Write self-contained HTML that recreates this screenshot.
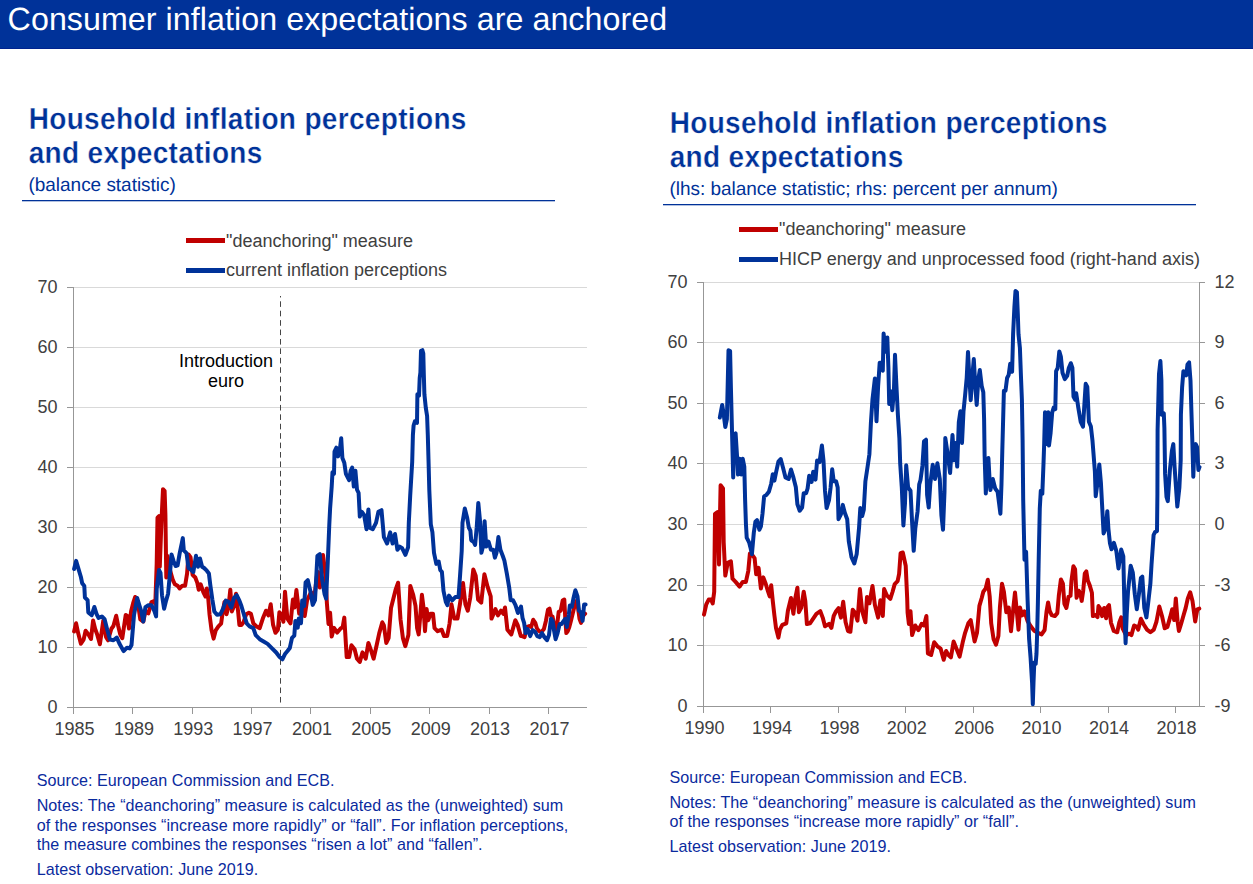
<!DOCTYPE html>
<html><head><meta charset="utf-8"><title>Consumer inflation expectations are anchored</title>
<style>
html,body{margin:0;padding:0;background:#fff;}
body{width:1253px;height:884px;overflow:hidden;}
svg{display:block;}
text{font-family:"Liberation Sans", Arial, sans-serif;}
</style></head><body>
<svg width="1253" height="884" viewBox="0 0 1253 884">
<rect x="0" y="0" width="1253" height="884" fill="#ffffff"/>
<rect x="0" y="0" width="1253" height="49" fill="#003299"/>
<rect x="0" y="48" width="1253" height="1" fill="#00238f"/>
<text x="7.6" y="30" font-size="32.2" text-rendering="geometricPrecision" fill="#ffffff" textLength="659.5" lengthAdjust="spacing">Consumer inflation expectations are anchored</text>

<text transform="translate(28.7,128.8) scale(1,1.085)" x="0" y="0" font-size="28" text-rendering="geometricPrecision" font-weight="bold" fill="#003299" stroke="#ffffff" stroke-width="0.3" letter-spacing="0.33">Household inflation perceptions</text>
<text transform="translate(28.7,162.9) scale(1,1.085)" x="0" y="0" font-size="28" text-rendering="geometricPrecision" font-weight="bold" fill="#003299" stroke="#ffffff" stroke-width="0.3" letter-spacing="0.33">and expectations</text>
<text x="28.5" y="191.0" font-size="19" text-rendering="geometricPrecision" fill="#003299" letter-spacing="-0.03">(balance statistic)</text>
<rect x="22" y="200" width="533" height="1.3" fill="#003299"/>
<text transform="translate(669.7,132.8) scale(1,1.085)" x="0" y="0" font-size="28" text-rendering="geometricPrecision" font-weight="bold" fill="#003299" stroke="#ffffff" stroke-width="0.3" letter-spacing="0.33">Household inflation perceptions</text>
<text transform="translate(669.7,166.9) scale(1,1.085)" x="0" y="0" font-size="28" text-rendering="geometricPrecision" font-weight="bold" fill="#003299" stroke="#ffffff" stroke-width="0.3" letter-spacing="0.33">and expectations</text>
<text x="669.5" y="195.0" font-size="19" text-rendering="geometricPrecision" fill="#003299" letter-spacing="-0.03">(lhs: balance statistic; rhs: percent per annum)</text>
<rect x="663" y="204" width="533" height="1.3" fill="#003299"/>
<line x1="74" y1="287.5" x2="587" y2="287.5" stroke="#d9d9d9" stroke-width="1"/>
<line x1="74" y1="347.5" x2="587" y2="347.5" stroke="#d9d9d9" stroke-width="1"/>
<line x1="74" y1="407.5" x2="587" y2="407.5" stroke="#d9d9d9" stroke-width="1"/>
<line x1="74" y1="467.5" x2="587" y2="467.5" stroke="#d9d9d9" stroke-width="1"/>
<line x1="74" y1="527.5" x2="587" y2="527.5" stroke="#d9d9d9" stroke-width="1"/>
<line x1="74" y1="587.5" x2="587" y2="587.5" stroke="#d9d9d9" stroke-width="1"/>
<line x1="74" y1="647.5" x2="587" y2="647.5" stroke="#d9d9d9" stroke-width="1"/>
<line x1="73.5" y1="287" x2="73.5" y2="714" stroke="#979797" stroke-width="1"/>
<line x1="67" y1="707.5" x2="587" y2="707.5" stroke="#979797" stroke-width="1"/>
<line x1="67" y1="287.5" x2="73" y2="287.5" stroke="#979797" stroke-width="1"/>
<line x1="67" y1="347.5" x2="73" y2="347.5" stroke="#979797" stroke-width="1"/>
<line x1="67" y1="407.5" x2="73" y2="407.5" stroke="#979797" stroke-width="1"/>
<line x1="67" y1="467.5" x2="73" y2="467.5" stroke="#979797" stroke-width="1"/>
<line x1="67" y1="527.5" x2="73" y2="527.5" stroke="#979797" stroke-width="1"/>
<line x1="67" y1="587.5" x2="73" y2="587.5" stroke="#979797" stroke-width="1"/>
<line x1="67" y1="647.5" x2="73" y2="647.5" stroke="#979797" stroke-width="1"/>
<text x="57.5" y="293.0" font-size="18" fill="#404040" text-anchor="end">70</text>
<text x="57.5" y="353.0" font-size="18" fill="#404040" text-anchor="end">60</text>
<text x="57.5" y="413.0" font-size="18" fill="#404040" text-anchor="end">50</text>
<text x="57.5" y="473.0" font-size="18" fill="#404040" text-anchor="end">40</text>
<text x="57.5" y="533.0" font-size="18" fill="#404040" text-anchor="end">30</text>
<text x="57.5" y="593.0" font-size="18" fill="#404040" text-anchor="end">20</text>
<text x="57.5" y="653.0" font-size="18" fill="#404040" text-anchor="end">10</text>
<text x="57.5" y="713.0" font-size="18" fill="#404040" text-anchor="end">0</text>
<line x1="73.5" y1="707" x2="73.5" y2="714" stroke="#979797" stroke-width="1"/>
<text x="74.5" y="735.0" font-size="18" fill="#404040" text-anchor="middle">1985</text>
<line x1="132.5" y1="707" x2="132.5" y2="714" stroke="#979797" stroke-width="1"/>
<text x="133.9" y="735.0" font-size="18" fill="#404040" text-anchor="middle">1989</text>
<line x1="192.5" y1="707" x2="192.5" y2="714" stroke="#979797" stroke-width="1"/>
<text x="193.2" y="735.0" font-size="18" fill="#404040" text-anchor="middle">1993</text>
<line x1="251.5" y1="707" x2="251.5" y2="714" stroke="#979797" stroke-width="1"/>
<text x="252.6" y="735.0" font-size="18" fill="#404040" text-anchor="middle">1997</text>
<line x1="310.5" y1="707" x2="310.5" y2="714" stroke="#979797" stroke-width="1"/>
<text x="311.9" y="735.0" font-size="18" fill="#404040" text-anchor="middle">2001</text>
<line x1="370.5" y1="707" x2="370.5" y2="714" stroke="#979797" stroke-width="1"/>
<text x="371.3" y="735.0" font-size="18" fill="#404040" text-anchor="middle">2005</text>
<line x1="429.5" y1="707" x2="429.5" y2="714" stroke="#979797" stroke-width="1"/>
<text x="430.7" y="735.0" font-size="18" fill="#404040" text-anchor="middle">2009</text>
<line x1="489.5" y1="707" x2="489.5" y2="714" stroke="#979797" stroke-width="1"/>
<text x="490.0" y="735.0" font-size="18" fill="#404040" text-anchor="middle">2013</text>
<line x1="548.5" y1="707" x2="548.5" y2="714" stroke="#979797" stroke-width="1"/>
<text x="549.4" y="735.0" font-size="18" fill="#404040" text-anchor="middle">2017</text>
<line x1="704" y1="282.5" x2="1200" y2="282.5" stroke="#d9d9d9" stroke-width="1"/>
<line x1="704" y1="342.5" x2="1200" y2="342.5" stroke="#d9d9d9" stroke-width="1"/>
<line x1="704" y1="403.5" x2="1200" y2="403.5" stroke="#d9d9d9" stroke-width="1"/>
<line x1="704" y1="463.5" x2="1200" y2="463.5" stroke="#d9d9d9" stroke-width="1"/>
<line x1="704" y1="524.5" x2="1200" y2="524.5" stroke="#d9d9d9" stroke-width="1"/>
<line x1="704" y1="585.5" x2="1200" y2="585.5" stroke="#d9d9d9" stroke-width="1"/>
<line x1="704" y1="645.5" x2="1200" y2="645.5" stroke="#d9d9d9" stroke-width="1"/>
<line x1="703.5" y1="282" x2="703.5" y2="713" stroke="#979797" stroke-width="1"/>
<line x1="697" y1="706.5" x2="1200" y2="706.5" stroke="#979797" stroke-width="1"/>
<line x1="697" y1="282.5" x2="703" y2="282.5" stroke="#979797" stroke-width="1"/>
<line x1="697" y1="342.5" x2="703" y2="342.5" stroke="#979797" stroke-width="1"/>
<line x1="697" y1="403.5" x2="703" y2="403.5" stroke="#979797" stroke-width="1"/>
<line x1="697" y1="463.5" x2="703" y2="463.5" stroke="#979797" stroke-width="1"/>
<line x1="697" y1="524.5" x2="703" y2="524.5" stroke="#979797" stroke-width="1"/>
<line x1="697" y1="585.5" x2="703" y2="585.5" stroke="#979797" stroke-width="1"/>
<line x1="697" y1="645.5" x2="703" y2="645.5" stroke="#979797" stroke-width="1"/>
<text x="687.5" y="288.0" font-size="18" fill="#404040" text-anchor="end">70</text>
<text x="687.5" y="348.0" font-size="18" fill="#404040" text-anchor="end">60</text>
<text x="687.5" y="409.0" font-size="18" fill="#404040" text-anchor="end">50</text>
<text x="687.5" y="469.0" font-size="18" fill="#404040" text-anchor="end">40</text>
<text x="687.5" y="530.0" font-size="18" fill="#404040" text-anchor="end">30</text>
<text x="687.5" y="591.0" font-size="18" fill="#404040" text-anchor="end">20</text>
<text x="687.5" y="651.0" font-size="18" fill="#404040" text-anchor="end">10</text>
<text x="687.5" y="712.0" font-size="18" fill="#404040" text-anchor="end">0</text>
<line x1="1199.5" y1="282" x2="1199.5" y2="707" stroke="#979797" stroke-width="1"/>
<line x1="1199" y1="282.5" x2="1205" y2="282.5" stroke="#979797" stroke-width="1"/>
<text x="1214.6" y="288.0" font-size="18" fill="#404040">12</text>
<line x1="1199" y1="342.5" x2="1205" y2="342.5" stroke="#979797" stroke-width="1"/>
<text x="1214.6" y="348.0" font-size="18" fill="#404040">9</text>
<line x1="1199" y1="403.5" x2="1205" y2="403.5" stroke="#979797" stroke-width="1"/>
<text x="1214.6" y="409.0" font-size="18" fill="#404040">6</text>
<line x1="1199" y1="463.5" x2="1205" y2="463.5" stroke="#979797" stroke-width="1"/>
<text x="1214.6" y="469.0" font-size="18" fill="#404040">3</text>
<line x1="1199" y1="524.5" x2="1205" y2="524.5" stroke="#979797" stroke-width="1"/>
<text x="1214.6" y="530.0" font-size="18" fill="#404040">0</text>
<line x1="1199" y1="585.5" x2="1205" y2="585.5" stroke="#979797" stroke-width="1"/>
<text x="1214.6" y="591.0" font-size="18" fill="#404040">-3</text>
<line x1="1199" y1="645.5" x2="1205" y2="645.5" stroke="#979797" stroke-width="1"/>
<text x="1214.6" y="651.0" font-size="18" fill="#404040">-6</text>
<line x1="1199" y1="706.5" x2="1205" y2="706.5" stroke="#979797" stroke-width="1"/>
<text x="1214.6" y="712.0" font-size="18" fill="#404040">-9</text>
<line x1="703.5" y1="706" x2="703.5" y2="713" stroke="#979797" stroke-width="1"/>
<text x="704.5" y="734.0" font-size="18" fill="#404040" text-anchor="middle">1990</text>
<line x1="770.5" y1="706" x2="770.5" y2="713" stroke="#979797" stroke-width="1"/>
<text x="771.9" y="734.0" font-size="18" fill="#404040" text-anchor="middle">1994</text>
<line x1="838.5" y1="706" x2="838.5" y2="713" stroke="#979797" stroke-width="1"/>
<text x="839.4" y="734.0" font-size="18" fill="#404040" text-anchor="middle">1998</text>
<line x1="905.5" y1="706" x2="905.5" y2="713" stroke="#979797" stroke-width="1"/>
<text x="906.8" y="734.0" font-size="18" fill="#404040" text-anchor="middle">2002</text>
<line x1="973.5" y1="706" x2="973.5" y2="713" stroke="#979797" stroke-width="1"/>
<text x="974.2" y="734.0" font-size="18" fill="#404040" text-anchor="middle">2006</text>
<line x1="1040.5" y1="706" x2="1040.5" y2="713" stroke="#979797" stroke-width="1"/>
<text x="1041.6" y="734.0" font-size="18" fill="#404040" text-anchor="middle">2010</text>
<line x1="1108.5" y1="706" x2="1108.5" y2="713" stroke="#979797" stroke-width="1"/>
<text x="1109.1" y="734.0" font-size="18" fill="#404040" text-anchor="middle">2014</text>
<line x1="1175.5" y1="706" x2="1175.5" y2="713" stroke="#979797" stroke-width="1"/>
<text x="1176.5" y="734.0" font-size="18" fill="#404040" text-anchor="middle">2018</text>
<line x1="280.5" y1="296" x2="280.5" y2="702.6" stroke="#454545" stroke-width="1" stroke-dasharray="5.6,3.82" stroke-dashoffset="4.12"/>
<text x="226" y="366.8" font-size="18" fill="#000" text-anchor="middle">Introduction</text>
<text x="226" y="387.1" font-size="18" fill="#000" text-anchor="middle">euro</text>
<polyline points="74.1,631.4 76.1,623.3 78.1,632.8 80.9,643.7 83.6,639.6 85.6,630.8 88.3,634.2 91.0,638.9 93.1,620.6 95.1,628.7 97.1,634.2 99.9,644.3 103.3,620.6 106.0,636.9 108.0,640.3 111.4,628.7 113.4,626.0 116.2,615.8 118.2,626.0 120.2,634.2 122.3,638.2 125.7,615.0 127.2,616.0 129.0,628.6 131.1,611.3 133.2,603.0 135.2,597.0 138.2,605.2 140.3,619.4 143.3,621.5 145.4,611.3 148.4,613.3 151.5,602.1 154.0,601.1 155.3,604.0 156.7,563.6 157.5,517.7 159.0,516.2 159.8,566.8 161.4,522.5 163.0,489.2 164.6,490.8 165.4,514.6 166.3,577.5 167.5,556.0 170.0,570.0 172.9,580.2 174.9,584.3 177.6,585.7 179.7,588.4 182.4,585.7 185.1,585.7 187.1,573.4 188.5,554.4 190.5,557.1 192.6,574.8 195.3,577.5 197.3,582.9 198.7,589.7 200.7,584.3 203.4,592.4 205.5,596.5 206.8,588.4 208.2,597.9 209.5,614.2 211.6,630.4 213.6,638.6 215.7,630.4 218.4,626.4 221.1,623.7 222.4,614.2 224.5,601.9 226.5,614.2 228.6,606.0 230.3,589.7 231.9,611.4 234.0,606.0 236.0,593.8 238.1,611.4 239.4,625.0 241.4,625.0 243.5,622.3 246.2,614.2 248.9,612.8 250.9,613.8 253.3,623.3 256.5,626.5 259.7,628.1 262.8,618.6 266.0,610.7 268.4,615.4 270.7,604.3 273.1,624.9 275.5,632.8 277.9,629.7 279.4,612.2 281.8,615.4 283.4,621.7 285.0,591.7 287.4,618.6 290.5,623.3 292.9,599.6 294.5,607.5 296.4,590.1 299.2,613.8 301.6,607.5 304.7,616.0 307.1,600.2 311.1,592.2 314.2,598.6 317.4,571.7 319.8,587.5 323.0,555.0 325.3,573.2 326.9,603.3 328.5,623.9 330.1,612.8 331.7,636.6 334.0,627.9 337.2,632.6 340.4,628.7 342.7,627.1 344.3,617.6 346.7,657.1 349.1,657.1 351.4,645.3 354.6,649.2 357.0,658.7 359.8,661.9 362.5,652.4 365.7,658.7 368.4,642.9 371.2,650.8 373.6,658.7 376.8,644.5 379.2,633.4 382.3,622.3 383.9,625.5 386.3,642.9 388.6,638.1 391.0,608.1 393.4,598.6 395.8,589.1 398.1,582.7 400.5,619.2 402.9,638.1 405.3,646.1 408.4,635.0 410.3,585.9 413.2,594.8 415.5,605.9 417.1,628.1 418.7,634.4 420.3,615.4 421.9,594.8 423.5,607.5 425.0,631.2 426.6,609.1 428.2,620.2 430.6,613.8 433.0,613.8 434.5,628.1 437.7,631.2 441.7,629.7 444.0,636.0 447.2,636.0 449.6,623.3 451.5,604.3 454.3,618.6 457.5,618.6 459.9,604.3 463.0,583.0 465.4,604.3 467.8,610.7 470.2,598.0 473.3,569.5 475.7,575.8 478.1,599.6 481.2,602.7 484.4,574.2 487.6,586.9 490.7,596.4 491.5,618.6 495.5,609.1 497.9,615.4 501.0,610.7 503.4,613.8 505.0,607.5 507.4,629.7 511.3,634.4 515.3,620.2 517.6,624.9 520.8,636.0 522.0,636.1 524.6,637.1 526.6,627.0 529.2,626.0 531.2,627.0 533.2,619.8 535.3,622.9 536.8,628.0 538.8,631.0 541.4,632.1 543.9,629.0 545.9,620.9 548.0,609.7 549.5,608.7 551.0,615.8 552.6,616.8 554.1,624.9 555.6,631.0 557.1,624.9 558.7,611.7 560.7,610.7 562.7,600.5 564.3,599.5 565.3,618.8 566.3,633.1 567.8,631.0 569.3,627.0 570.9,620.9 572.9,612.7 574.9,604.6 577.0,600.5 579.5,618.8 581.0,622.9 583.1,615.8 585.1,613.7" fill="none" stroke="#c00000" stroke-width="4" stroke-linejoin="round" stroke-linecap="round"/>
<polyline points="74.1,569.0 76.1,560.9 78.1,567.6 80.9,577.0 82.2,583.3 84.3,586.0 84.9,597.5 87.6,600.2 88.3,612.4 91.7,615.2 94.4,607.0 96.5,613.8 98.5,617.9 101.9,616.5 104.6,619.2 107.3,630.0 110.0,639.6 113.4,640.3 116.8,637.6 119.5,643.7 123.6,651.1 127.0,647.7 129.7,648.4 131.5,645.0 134.0,615.0 137.2,598.0 139.3,605.0 141.3,611.3 143.3,621.5 145.4,607.2 148.4,605.2 151.5,605.2 154.5,611.3 156.1,616.4 156.7,589.0 159.0,570.0 160.5,573.0 162.0,595.2 164.1,608.7 166.1,600.6 168.1,593.8 170.2,570.7 171.5,554.4 173.6,561.2 175.6,566.0 177.6,565.3 179.7,553.1 181.7,543.6 182.8,538.1 183.8,550.4 186.5,553.1 188.5,568.0 190.5,569.4 193.3,572.1 196.0,555.8 198.0,566.7 200.0,558.5 202.1,566.7 204.1,568.0 206.8,570.7 208.9,573.4 210.2,584.3 212.3,599.2 214.3,611.4 217.0,614.8 220.4,614.2 223.1,608.7 225.8,600.6 228.5,601.9 231.3,607.4 234.0,597.9 236.7,595.2 239.4,600.6 241.4,606.0 244.2,615.5 246.9,623.7 249.6,626.4 253.3,628.1 255.7,635.2 259.7,639.2 263.6,641.5 267.6,643.9 272.3,648.6 276.2,652.5 279.6,657.0 282.4,659.3 285.2,653.7 287.5,651.0 289.8,648.0 292.0,637.9 294.3,635.6 295.4,620.9 297.7,627.7 298.8,618.6 301.0,623.1 302.2,600.5 304.2,606.0 305.6,582.4 307.8,580.2 310.3,590.7 312.7,604.9 315.0,600.2 317.4,555.8 319.8,554.2 322.2,579.6 324.5,593.8 326.1,598.6 327.7,563.7 329.3,524.5 330.1,508.6 331.7,486.5 332.5,472.2 334.0,473.8 334.5,451.7 336.4,447.7 338.0,456.4 339.6,451.7 341.2,438.2 342.4,458.0 344.3,462.7 345.9,473.8 349.1,480.2 350.7,470.7 352.2,467.5 353.8,486.5 355.4,470.7 357.0,489.7 358.6,492.8 359.8,516.6 361.7,511.8 364.1,515.0 366.5,529.2 368.4,509.4 369.7,527.6 372.8,529.2 376.0,522.9 378.4,511.8 381.5,510.2 383.9,537.1 387.1,543.5 390.2,532.4 392.6,543.5 395.0,534.0 397.4,549.8 399.7,546.6 402.1,548.2 405.4,554.8 408.1,547.3 408.8,522.9 410.2,495.7 412.2,461.8 412.9,435.0 413.6,425.5 414.9,421.4 417.0,422.8 417.4,394.3 419.0,395.7 419.7,378.0 420.4,372.6 421.0,350.9 422.4,350.2 423.3,353.6 423.8,374.0 424.4,394.3 425.8,407.9 427.1,416.0 427.8,435.0 428.5,459.5 429.3,490.0 430.8,524.3 432.4,532.2 434.0,552.8 436.3,563.9 438.7,561.5 440.3,570.2 441.9,571.8 443.5,590.8 445.8,601.9 447.4,605.1 449.0,595.6 452.2,600.3 455.3,597.1 458.5,597.1 460.1,575.0 461.7,551.2 462.5,522.7 464.8,508.5 467.2,518.0 468.8,527.5 470.4,530.7 471.2,540.2 473.5,541.7 475.1,544.9 476.7,527.5 478.3,503.0 479.9,519.6 481.4,552.8 483.0,546.5 484.6,521.2 486.2,546.5 488.6,541.7 490.9,549.7 493.3,549.7 494.9,557.6 496.5,552.8 498.4,537.0 500.4,549.7 502.8,556.0 504.4,560.7 506.8,573.4 509.2,587.6 510.7,600.3 513.1,600.3 515.5,605.1 517.9,613.0 521.0,606.6 522.5,617.8 524.1,622.9 525.6,633.1 527.6,629.0 530.2,636.1 532.7,630.0 535.3,632.1 537.3,636.1 539.8,637.1 541.9,633.1 544.4,637.1 547.0,640.2 549.0,635.1 551.0,618.8 552.6,620.9 554.1,631.0 555.6,639.2 557.6,633.1 559.7,623.9 561.7,623.9 563.7,620.9 565.3,618.8 566.8,627.0 568.8,614.8 569.8,605.6 571.9,606.6 573.4,598.5 575.4,590.3 577.5,596.4 579.0,610.7 581.0,612.7 582.6,620.9 584.1,604.6 585.6,604.6" fill="none" stroke="#003299" stroke-width="4" stroke-linejoin="round" stroke-linecap="round"/>
<polyline points="704.0,614.6 706.3,604.3 708.7,599.6 711.1,599.6 712.7,603.5 714.2,591.7 715.0,513.8 717.4,512.2 719.0,564.5 720.6,485.3 723.0,488.5 723.7,542.3 725.3,575.6 727.7,562.9 730.9,561.3 732.5,578.7 735.6,581.9 739.6,586.6 742.7,581.9 745.9,581.9 748.3,570.8 749.9,553.4 752.2,555.0 754.6,558.1 756.2,574.2 758.6,567.9 760.9,588.5 763.3,577.4 765.7,583.7 768.1,591.7 769.7,596.4 771.2,585.3 772.8,601.2 774.4,615.4 776.0,628.1 778.4,637.6 779.9,629.7 782.3,624.9 786.3,623.3 787.9,610.7 791.0,598.0 793.4,613.8 795.0,599.6 797.4,587.7 798.9,612.2 801.3,607.5 803.7,591.7 805.3,601.2 806.9,624.1 810.0,623.3 813.2,618.6 816.4,613.8 820.3,611.2 822.7,617.6 825.0,626.3 829.0,623.9 831.4,627.9 833.7,616.0 836.1,611.2 838.5,608.1 840.9,617.6 843.2,601.7 845.6,622.3 848.0,631.0 850.4,631.8 852.7,609.7 855.1,612.8 857.5,620.7 859.9,589.1 862.2,611.2 865.4,622.3 867.0,597.0 869.4,603.3 872.5,585.9 874.9,604.9 878.1,617.6 880.4,600.2 882.8,616.0 884.1,589.1 886.8,595.4 890.3,598.8 892.5,592.0 894.7,584.1 897.6,581.2 899.1,573.8 900.6,553.2 902.8,552.5 905.7,565.7 907.2,598.8 907.6,612.8 908.9,623.9 910.5,611.2 912.1,635.0 915.3,625.5 918.4,630.2 921.6,623.9 924.0,625.5 926.4,616.0 927.9,653.4 931.1,655.0 934.2,642.3 937.4,646.3 940.6,648.6 943.7,659.7 946.1,651.0 948.5,655.0 950.9,657.4 953.6,641.5 956.4,648.6 959.6,656.6 962.7,642.3 965.1,632.8 968.3,623.3 970.7,620.2 974.6,641.5 977.0,632.8 979.4,605.9 981.7,598.0 983.3,591.7 985.7,588.5 987.8,579.8 989.7,596.4 991.2,623.3 993.6,639.2 996.0,644.7 998.4,636.0 999.9,607.5 1002.0,583.7 1003.9,591.7 1006.3,612.2 1008.7,607.5 1011.0,631.2 1013.4,607.5 1015.0,592.5 1016.9,612.2 1018.5,629.7 1020.0,607.5 1022.1,615.4 1024.5,611.4 1027.6,621.2 1031.3,627.1 1034.3,630.7 1037.9,632.9 1041.6,634.4 1044.6,630.0 1046.6,611.0 1048.1,602.4 1049.7,611.0 1051.7,615.1 1054.8,616.1 1057.3,613.1 1058.8,595.8 1060.9,579.5 1062.9,583.6 1064.4,603.9 1066.4,608.0 1068.5,596.8 1070.5,595.8 1071.5,580.5 1073.4,566.3 1075.1,569.3 1076.6,597.8 1078.7,590.7 1080.2,592.7 1081.7,600.9 1083.2,590.7 1084.8,573.4 1086.3,571.4 1087.8,580.5 1089.8,585.6 1091.9,592.7 1092.9,616.1 1095.4,615.1 1097.5,617.1 1098.5,606.0 1100.5,609.0 1102.1,616.1 1104.1,608.0 1106.1,618.2 1107.6,607.0 1109.0,605.2 1111.0,622.8 1113.8,631.0 1117.2,632.3 1119.2,622.8 1121.2,617.4 1122.6,628.3 1126.0,635.1 1129.4,633.7 1131.4,635.1 1134.1,625.5 1136.8,626.9 1138.2,629.6 1140.9,618.8 1143.6,624.2 1147.0,629.6 1150.4,632.3 1153.8,629.6 1156.5,621.5 1159.3,606.5 1162.0,616.0 1164.7,628.3 1167.4,626.9 1170.1,617.4 1172.2,609.3 1174.2,620.1 1175.8,598.4 1177.6,621.5 1178.9,631.0 1181.0,624.2 1183.7,614.7 1185.7,607.9 1187.8,598.4 1190.2,592.3 1192.5,601.1 1195.2,621.5 1197.3,609.3 1199.3,608.6" fill="none" stroke="#c00000" stroke-width="4" stroke-linejoin="round" stroke-linecap="round"/>
<polyline points="719.8,417.6 722.2,404.9 723.7,414.4 725.3,427.1 726.9,419.2 728.5,350.3 730.1,351.1 730.9,387.5 731.7,419.2 733.2,477.4 734.0,435.0 735.6,433.4 737.2,458.7 738.0,474.6 739.6,458.7 741.2,474.6 742.7,458.7 744.3,466.6 745.1,499.6 745.9,523.3 746.7,537.6 749.1,542.3 750.7,548.6 751.9,554.2 753.8,532.8 755.4,521.7 757.0,520.2 759.4,529.7 760.9,526.5 762.5,513.8 764.1,496.4 766.5,494.8 768.9,491.7 771.2,483.7 772.8,474.2 774.4,480.6 776.0,472.7 778.4,461.6 780.7,459.0 783.1,467.9 785.5,477.4 788.6,479.0 791.0,469.5 793.4,477.4 795.8,486.9 797.4,504.3 799.7,510.7 802.1,507.5 803.7,493.2 806.1,493.2 807.6,488.5 809.2,475.8 811.6,482.0 813.2,471.7 815.5,479.6 817.1,460.6 819.5,462.2 821.9,445.5 823.5,460.6 825.0,490.7 826.6,508.1 829.0,500.2 830.6,487.5 832.2,469.3 833.7,481.2 836.1,481.2 837.7,487.5 838.5,519.2 840.9,514.4 842.8,504.9 844.8,512.8 847.2,519.2 848.8,541.3 851.5,557.1 854.3,563.5 856.7,554.0 859.1,527.1 860.3,508.1 862.2,516.0 863.8,509.7 865.4,481.2 867.8,465.3 869.4,454.2 870.9,422.9 872.5,399.2 874.9,378.6 876.5,421.3 878.1,386.5 879.7,362.7 881.2,362.7 882.8,370.7 883.6,333.5 885.7,351.7 887.3,337.4 888.4,367.5 889.2,403.9 890.7,391.2 892.3,410.2 893.9,391.2 895.0,354.8 896.3,383.3 897.9,415.0 899.4,438.7 900.2,463.7 901.8,487.5 903.4,525.5 905.0,503.3 906.2,465.3 908.1,487.5 910.5,490.7 912.1,522.3 913.7,550.8 915.3,528.6 917.6,511.2 919.2,484.3 920.5,480.0 922.4,466.0 924.0,441.3 926.0,439.7 927.1,494.8 928.7,507.5 930.3,483.7 932.7,464.7 935.0,479.0 937.4,463.2 939.8,479.0 941.4,515.4 943.0,529.7 944.5,491.7 945.3,438.1 947.7,454.0 950.1,473.0 952.5,435.0 954.0,460.3 955.6,442.9 957.2,466.6 958.8,422.3 960.4,411.2 962.0,442.9 963.5,411.2 965.1,395.4 966.7,378.0 968.0,351.9 969.4,378.0 970.7,400.2 972.2,378.0 973.8,359.0 975.4,387.5 976.7,404.9 978.3,379.6 979.8,370.1 981.7,385.9 983.3,392.2 984.1,419.2 984.6,455.0 985.8,493.5 987.2,470.0 988.4,458.0 989.5,478.0 990.4,490.1 992.8,479.0 995.2,488.5 997.6,491.7 999.2,504.3 1000.4,513.8 1001.5,483.7 1002.3,450.8 1003.9,390.7 1005.5,390.7 1007.1,378.0 1008.7,374.8 1010.2,363.7 1012.1,371.7 1013.1,334.3 1014.4,307.1 1015.5,290.9 1016.9,292.2 1017.8,313.9 1018.5,334.3 1019.9,347.9 1020.9,375.0 1021.9,399.5 1022.6,440.0 1023.2,500.0 1024.5,559.7 1026.1,551.8 1027.6,600.0 1029.1,638.8 1030.6,658.0 1032.1,683.0 1032.8,704.3 1033.5,683.0 1034.3,662.4 1035.7,663.8 1036.5,653.5 1037.2,631.5 1037.9,602.1 1038.7,560.0 1039.8,508.1 1040.8,490.7 1042.3,493.8 1043.5,463.7 1044.2,443.2 1045.0,412.3 1046.6,444.0 1048.2,412.3 1049.0,445.6 1050.6,432.9 1052.2,412.3 1053.7,407.6 1055.3,409.2 1056.1,371.2 1057.7,368.0 1059.3,351.4 1060.9,356.9 1062.5,372.7 1064.8,379.1 1067.2,375.9 1068.8,368.0 1070.8,363.2 1072.4,368.0 1073.5,396.5 1075.1,399.7 1076.2,393.3 1078.3,407.6 1080.7,421.8 1083.0,426.6 1084.6,401.2 1085.7,383.8 1087.3,387.0 1088.9,421.8 1090.9,426.6 1092.5,440.8 1093.3,451.1 1094.9,471.7 1095.7,496.2 1097.3,484.3 1099.3,464.5 1100.9,482.7 1102.0,503.3 1103.6,533.4 1106.0,527.1 1107.3,511.2 1108.4,528.6 1109.9,542.9 1111.5,549.2 1113.9,542.9 1116.3,550.8 1118.5,568.5 1121.2,549.5 1123.3,556.3 1124.0,587.5 1124.6,614.7 1125.6,643.2 1126.7,614.7 1128.0,591.6 1130.7,565.8 1132.8,572.6 1134.8,594.3 1136.8,609.3 1138.9,594.3 1140.9,578.0 1142.3,576.7 1144.3,607.9 1146.4,617.4 1148.4,601.1 1150.4,583.5 1151.5,565.0 1153.6,535.0 1154.9,532.3 1157.0,531.0 1157.4,494.3 1157.6,430.0 1159.0,373.9 1160.4,361.0 1161.4,380.7 1161.7,414.7 1163.8,413.3 1164.4,428.2 1165.1,473.9 1166.5,497.0 1167.8,501.1 1169.9,469.9 1171.9,450.9 1173.3,444.1 1174.6,467.1 1176.0,487.5 1177.3,506.5 1179.4,487.5 1180.7,460.4 1180.9,414.7 1182.1,387.5 1183.4,371.2 1186.2,375.3 1187.5,364.4 1189.1,362.4 1190.5,380.7 1191.3,407.9 1192.3,440.0 1193.3,476.7 1194.3,450.9 1195.7,444.1 1197.0,446.8 1198.4,469.9 1199.5,467.1" fill="none" stroke="#003299" stroke-width="4" stroke-linejoin="round" stroke-linecap="round"/>
<line x1="186" y1="240.5" x2="225" y2="240.5" stroke="#c00000" stroke-width="5"/>
<line x1="186" y1="270.5" x2="225" y2="270.5" stroke="#003299" stroke-width="5"/>
<text x="226" y="246.8" font-size="18" fill="#404040">"deanchoring" measure</text>
<text x="226" y="276.0" font-size="18" fill="#404040">current inflation perceptions</text>
<line x1="739" y1="229.5" x2="778" y2="229.5" stroke="#c00000" stroke-width="5"/>
<line x1="739" y1="259.5" x2="778" y2="259.5" stroke="#003299" stroke-width="5"/>
<text x="779" y="234.8" font-size="18" fill="#404040">"deanchoring" measure</text>
<text x="779" y="264.9" font-size="18" fill="#404040">HICP energy and unprocessed food (right-hand axis)</text>
<text x="36.7" y="785.7" font-size="16.1" fill="#0a2a9e" letter-spacing="0.05">Source: European Commission and ECB.</text>
<text x="36.7" y="810.5" font-size="16.1" fill="#0a2a9e" letter-spacing="0.05">Notes: The “deanchoring” measure is calculated as the (unweighted) sum</text>
<text x="36.7" y="831.3" font-size="16.1" fill="#0a2a9e" letter-spacing="0.05">of the responses “increase more rapidly” or “fall”. For inflation perceptions,</text>
<text x="36.7" y="850.0" font-size="16.1" fill="#0a2a9e" letter-spacing="0.05">the measure combines the responses “risen a lot” and “fallen”.</text>
<text x="36.7" y="874.8" font-size="16.1" fill="#0a2a9e" letter-spacing="0.05">Latest observation: June 2019.</text>
<text x="669.4" y="783.3" font-size="16.1" fill="#0a2a9e" letter-spacing="0.05">Source: European Commission and ECB.</text>
<text x="669.4" y="807.6" font-size="16.1" fill="#0a2a9e" letter-spacing="0.05">Notes: The “deanchoring” measure is calculated as the (unweighted) sum</text>
<text x="669.4" y="826.5" font-size="16.1" fill="#0a2a9e" letter-spacing="0.05">of the responses “increase more rapidly” or “fall”.</text>
<text x="669.4" y="851.5" font-size="16.1" fill="#0a2a9e" letter-spacing="0.05">Latest observation: June 2019.</text>
</svg></body></html>
